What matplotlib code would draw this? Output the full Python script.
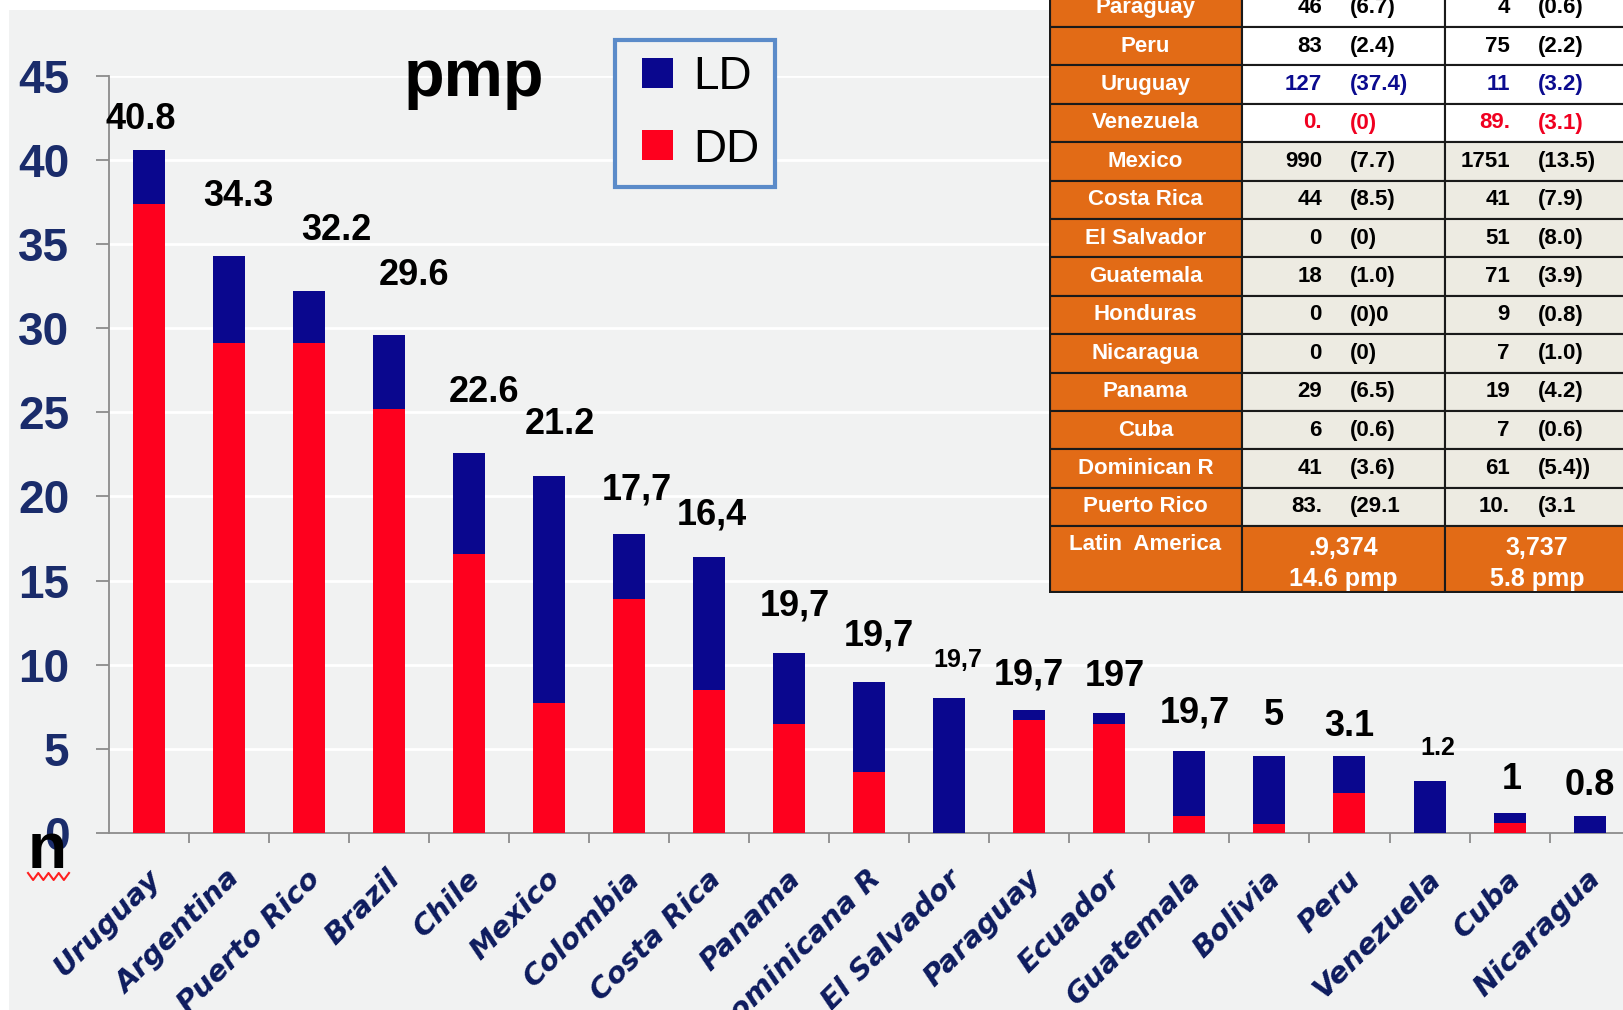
import numpy as np
import matplotlib
matplotlib.use('Agg')
import matplotlib.pyplot as plt
import matplotlib.transforms as mtrans
from matplotlib.patches import Rectangle
from matplotlib.lines import Line2D
from matplotlib.legend_handler import HandlerPatch

# ── Data ───────────────────────────────────────────────────────────────────
countries = ['Uruguay', 'Argentina', 'Puerto Rico', 'Brazil', 'Chile', 'Mexico',
             'Colombia', 'Costa Rica', 'Panama', 'Dominicana R', 'El Salvador',
             'Paraguay', 'Ecuador', 'Guatemala', 'Bolivia', 'Peru', 'Venezuela',
             'Cuba', 'Nicaragua']
dd = [37.4, 29.1, 29.1, 25.2, 16.6, 7.7, 13.9, 8.5, 6.5, 3.6, 0.0,
      6.7, 6.5, 1.0, 0.55, 2.4, 0.0, 0.6, 0.0]
ld = [3.2, 5.2, 3.1, 4.4, 6.0, 13.5, 3.85, 7.9, 4.2, 5.4, 8.0,
      0.6, 0.6, 3.9, 4.0, 2.2, 3.1, 0.6, 1.0]
bar_labels = ['40.8', '34.3', '32.2', '29.6', '22.6', '21.2', '17,7', '16,4',
              '19,7', '19,7', '19,7', '19,7', '197', '19,7', '5', '3.1', '1.2',
              '1', '0.8']

# table
table_countries = ['Paraguay', 'Peru', 'Uruguay', 'Venezuela', 'Mexico',
                   'Costa Rica', 'El Salvador', 'Guatemala', 'Honduras',
                   'Nicaragua', 'Panama', 'Cuba', 'Dominican R', 'Puerto Rico']
dd_n = ['46', '83', '127', '0.', '990', '44', '0', '18', '0', '0', '29', '6', '41', '83.']
dd_pmp = ['(6.7)', '(2.4)', '(37.4)', '(0)', '(7.7)', '(8.5)', '(0)', '(1.0)',
          '(0)0', '(0)', '(6.5)', '(0.6)', '(3.6)', '(29.1']
ld_n = ['4', '75', '11', '89.', '1751', '41', '51', '71', '9', '7', '19', '7', '61', '10.']
ld_pmp = ['(0.6)', '(2.2)', '(3.2)', '(3.1)', '(13.5)', '(7.9)', '(8.0)', '(3.9)',
          '(0.8)', '(1.0)', '(4.2)', '(0.6)', '(5.4))', '(3.1']
total_name = 'Latin  America'
total_dd = '.9,374\n14.6 pmp'
total_ld = '3,737\n5.8 pmp'

# ── Label placement (offsets from bar top) ────────────────────────────────
label_dx = [-0.10, 0.12, 0.34, 0.31, 0.18, 0.14, 0.10, 0.03, 0.07, 0.12, 0.10,
            -0.01, 0.07, 0.07, 0.06, 0.0, 0.10, 0.03, 0.0]
label_dy = [1.8, 3.5, 3.6, 3.5, 3.6, 3.1, 2.65, 2.5, 2.8, 2.7, 2.3,
            2.1, 2.2, 2.2, 2.45, 1.7, 1.95, 2.0, 1.8]
small_labels = [10, 16]

# ── Styles ─────────────────────────────────────────────────────────────────
NAVY = '#0A078E'
RED = '#FE001E'
BG = '#F1F2F2'
TICK_NAVY = '#1A2C6B'
AXIS_GRAY = '#8C8C8C'
ORANGE = '#E26B16'
BEIGE = '#EDEBE2'

W, H = 1624, 1010
fig = plt.figure(figsize=(W / 100, H / 100), dpi=100, facecolor='white')


def fx(px):
    return px / W


def fy(py):
    return 1 - py / H


fig.patches.append(Rectangle((fx(9), 0), 1, fy(10), transform=fig.transFigure,
                             facecolor=BG, edgecolor='none', zorder=-5))

# ── Main bar chart ─────────────────────────────────────────────────────────
ax = fig.add_axes([fx(109), fy(833), (W - 109) / W, (833 - 75.6) / H])
ax.set_facecolor('none')
x = np.arange(len(countries))
totals = np.array(dd) + np.array(ld)

ax.bar(x, dd, width=0.4, color=RED, zorder=3)
ax.bar(x, ld, width=0.4, bottom=dd, color=NAVY, zorder=3)

ax.set_xlim(-0.5, 18.43)
ax.set_ylim(0, 45)
ax.set_yticks(range(0, 50, 5))
ax.yaxis.grid(True, color='white', lw=2)
ax.set_axisbelow(True)
for s in ['top', 'right']:
    ax.spines[s].set_visible(False)
for s in ['left', 'bottom']:
    ax.spines[s].set_color(AXIS_GRAY)
    ax.spines[s].set_linewidth(1.3)

ax.tick_params(axis='y', length=9.5, width=1.3, color=AXIS_GRAY, pad=19,
               labelsize=33, labelcolor=TICK_NAVY)
for lbl in ax.get_yticklabels():
    lbl.set_fontweight('bold')
    lbl.set_family('Liberation Sans')

ax.set_xticks(x)
ax.set_xticklabels(countries, rotation=45, ha='right', va='center',
                   rotation_mode='anchor', fontsize=21, fontweight='bold',
                   style='oblique', color='#0D1B5E', family='DejaVu Sans')
ax.tick_params(axis='x', which='major', length=0, pad=30)
ax.set_xticks(np.arange(0.5, len(countries) - 1, 1), minor=True)
ax.tick_params(axis='x', which='minor', length=7, width=1.3, color=AXIS_GRAY)
shift = mtrans.ScaledTranslation(7 / 100, 0, fig.dpi_scale_trans)
for lbl in ax.get_xticklabels():
    lbl.set_transform(lbl.get_transform() + shift)

for i, txt in enumerate(bar_labels):
    size = 18 if i in small_labels else 26
    ax.text(i + label_dx[i], totals[i] + label_dy[i], txt, ha='center',
            va='center', fontsize=size, fontweight='bold',
            family='Liberation Sans', color='black', zorder=5)


# legend: square handle pushed to the right of its slot
def square_handle(legend, orig_handle, xdescent, ydescent, width, height, fontsize):
    side = 0.68 * fontsize
    return Rectangle((-xdescent + width - side, -ydescent), side, height)


handles = [Rectangle((0, 0), 1, 1, fc=NAVY), Rectangle((0, 0), 1, 1, fc=RED)]
leg = ax.legend(handles, ['LD', 'DD'], loc='upper left',
                bbox_to_anchor=(fx(615), fy(40)), bbox_transform=fig.transFigure,
                prop={'family': 'Liberation Sans', 'size': 33}, frameon=True,
                fancybox=False, edgecolor='#5B8BC9', facecolor=BG, framealpha=1,
                handlelength=0.93, handleheight=0.63, handletextpad=0.45,
                labelspacing=0.62, borderpad=0.33, borderaxespad=0,
                handler_map={Rectangle: HandlerPatch(patch_func=square_handle)})
leg.get_frame().set_linewidth(3)

fig.text(fx(474), fy(96), 'pmp', ha='center', va='baseline', fontsize=48,
         fontweight='bold', family='Liberation Sans', color='black')

# spell-check artefact near the origin
fig.text(fx(47.5), fy(851), 'n', ha='center', va='center', fontsize=46,
         fontweight='bold', family='Liberation Sans', color='black', zorder=6)
zz_x = np.linspace(28, 69, 9)
zz_y = np.where(np.arange(9) % 2 == 0, 873, 880)
fig.lines.append(Line2D(fx(zz_x), fy(zz_y), transform=fig.transFigure,
                        color='#FF2020', lw=1.5, zorder=6))

# ── Table ──────────────────────────────────────────────────────────────────
tax = fig.add_axes([fx(1049), fy(593), (1640 - 1049) / W, (593 + 11.4) / H])
tax.set_xlim(1049, 1640)
tax.set_ylim(593, -11.4)
tax.axis('off')
col_x = [1049, 1242, 1445, 1640]
row_h = 38.4
top0 = -11.4
row_colors = {2: '#0B0B8F', 3: '#F00020'}
tfont = dict(family='Liberation Sans', fontweight='bold', fontsize=16)

for i, name in enumerate(table_countries):
    top = top0 + i * row_h
    fill = 'white' if i < 4 else BEIGE
    tax.add_patch(Rectangle((col_x[0], top), col_x[1] - col_x[0], row_h,
                            fc=ORANGE, ec='#1A1A1A', lw=1.5))
    for c in (1, 2):
        tax.add_patch(Rectangle((col_x[c], top), col_x[c + 1] - col_x[c], row_h,
                                fc=fill, ec='#1A1A1A', lw=1.5))
    yc = top + row_h / 2
    tc = row_colors.get(i, 'black')
    tax.text((col_x[0] + col_x[1]) / 2, yc, name, ha='center', va='center',
             color='white', **tfont)
    tax.text(1322, yc, dd_n[i], ha='right', va='center', color=tc, **tfont)
    tax.text(1350, yc, dd_pmp[i], ha='left', va='center', color=tc, **tfont)
    tax.text(1510, yc, ld_n[i], ha='right', va='center', color=tc, **tfont)
    tax.text(1538, yc, ld_pmp[i], ha='left', va='center', color=tc, **tfont)

top = top0 + len(table_countries) * row_h
last_h = 593 - top
for c in range(3):
    tax.add_patch(Rectangle((col_x[c], top), col_x[c + 1] - col_x[c], last_h,
                            fc=ORANGE, ec='#1A1A1A', lw=1.5))
tax.text((col_x[0] + col_x[1]) / 2, top + 18, total_name, ha='center',
         va='center', color='white', **tfont)
tax.text((col_x[1] + col_x[2]) / 2, top + 37, total_dd, ha='center', va='center',
         color='white', linespacing=1.35, **{**tfont, 'fontsize': 18})
tax.text(1537, top + 37, total_ld, ha='center', va='center',
         color='white', linespacing=1.35, **{**tfont, 'fontsize': 18})
tax.add_patch(Rectangle((col_x[0], top0), col_x[3] - col_x[0], 593 - top0,
                        fill=False, ec='#1A1A1A', lw=3))

fig.savefig('out.png', dpi=100, facecolor=fig.get_facecolor())
